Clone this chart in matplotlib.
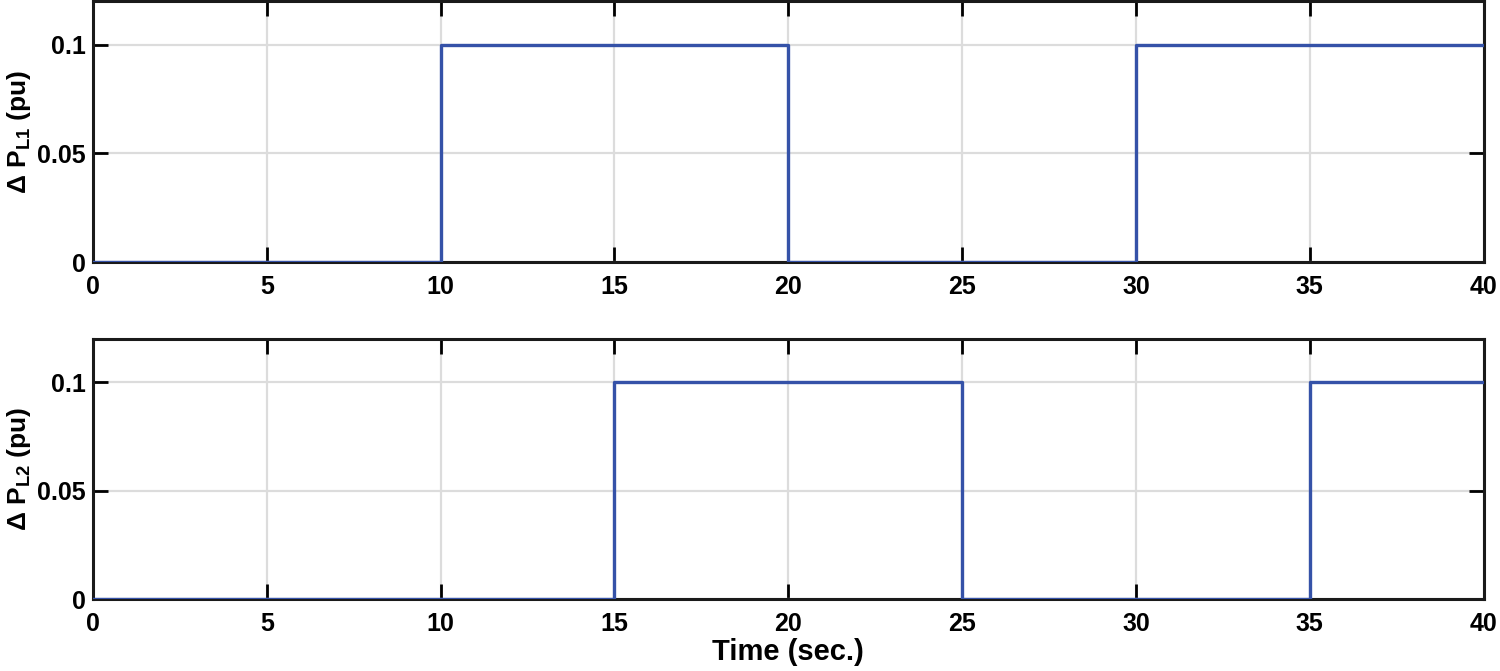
import matplotlib
matplotlib.use("Agg")
import matplotlib.pyplot as plt

# step load changes (pu), value holds from each switch time onward
t_l1 = [0, 10, 20, 30, 40]
p_l1 = [0, 0.1, 0, 0.1, 0.1]
t_l2 = [0, 15, 25, 35, 40]
p_l2 = [0, 0.1, 0, 0.1, 0.1]

xticks = [0, 5, 10, 15, 20, 25, 30, 35, 40]
yticks = [0, 0.05, 0.1]
ytick_labels = ["0", "0.05", "0.1"]

plt.rcParams["font.family"] = ["Liberation Sans", "DejaVu Sans"]
plt.rcParams["font.weight"] = "bold"
plt.rcParams["mathtext.fontset"] = "custom"
plt.rcParams["mathtext.bf"] = "Liberation Sans:bold"
plt.rcParams["mathtext.rm"] = "Liberation Sans:bold"
plt.rcParams["mathtext.default"] = "bf"

fig = plt.figure(figsize=(15, 6.71), dpi=100)
ax1 = fig.add_axes([0.062, 0.6095, 0.927, 0.389])
ax2 = fig.add_axes([0.062, 0.1073, 0.927, 0.3875])

line_color = "#3552a8"
panels = [
    (ax1, t_l1, p_l1, r"Δ P$_{L1}$ (pu)"),
    (ax2, t_l2, p_l2, r"Δ P$_{L2}$ (pu)"),
]
for ax, t, p, ylab in panels:
    ax.step(t, p, where="post", color=line_color, linewidth=2.4, zorder=3)
    ax.set_xlim(0, 40)
    ax.set_ylim(0, 0.12)
    ax.set_xticks(xticks)
    ax.set_xticklabels([str(x) for x in xticks])
    ax.set_yticks(yticks)
    ax.set_yticklabels(ytick_labels)
    ax.grid(True, color="#dcdcdc", linewidth=1.6)
    ax.set_axisbelow(True)
    ax.tick_params(direction="in", length=11, width=2, top=True, right=True,
                   labelsize=18, pad=5)
    ax.tick_params(axis="x", pad=9)
    for lab in ax.get_xticklabels() + ax.get_yticklabels():
        lab.set_fontweight("bold")
    for s in ax.spines.values():
        s.set_linewidth(2.2)
        s.set_color("#1a1a1a")
    ax.set_ylabel(ylab, fontsize=19, fontweight="bold", labelpad=3)

ax2.set_xlabel("Time (sec.)", fontsize=21, fontweight="bold", labelpad=2)

fig.savefig("out.png", dpi=100)
